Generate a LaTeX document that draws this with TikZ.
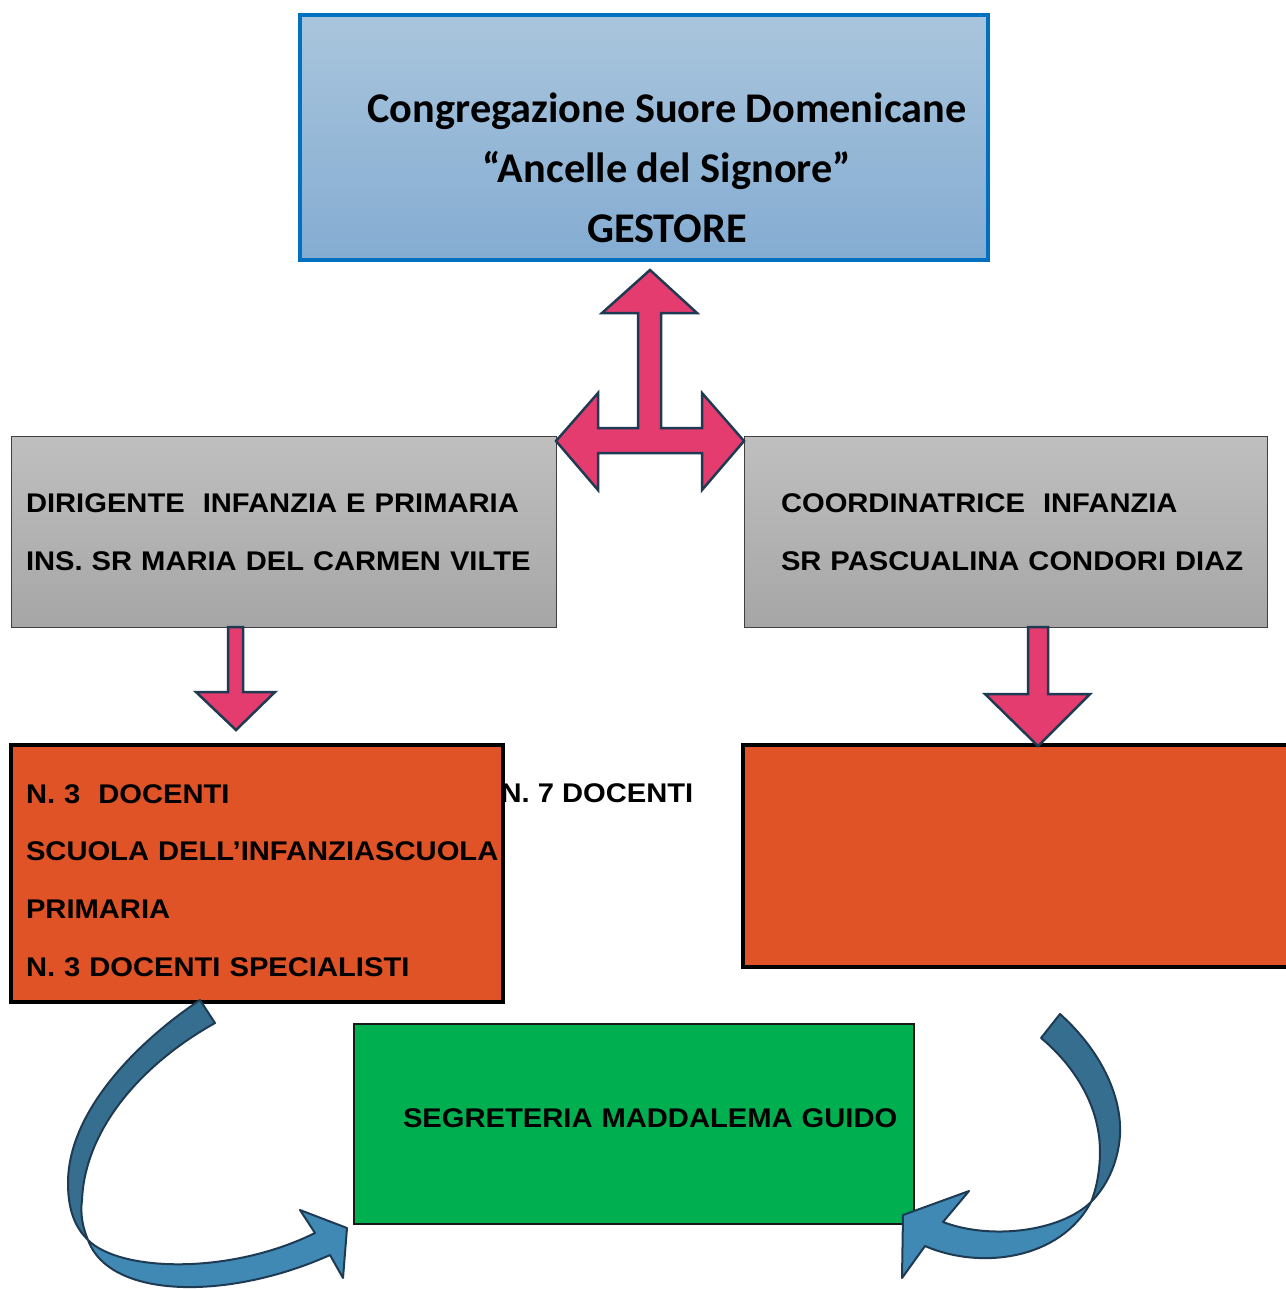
\documentclass[tikz,border=0pt]{standalone}
\usepackage{fontspec}
\setmainfont{Liberation Sans}
\newfontfamily\calibrifont{Carlito}
\newfontfamily\arialfont[FakeStretch=1.08]{Liberation Sans}
\usepackage{tikz}
\usetikzlibrary{positioning}
\definecolor{gestoreblu}{HTML}{0070C0}
\definecolor{blutop}{HTML}{A9C5DC}
\definecolor{blubottom}{HTML}{84ACD2}
\definecolor{grigiotop}{HTML}{BFBFBF}
\definecolor{grigiobottom}{HTML}{A6A6A6}
\definecolor{rosa}{HTML}{E43C6F}
\definecolor{bordoscuro}{HTML}{1F3B53}
\definecolor{arancio}{HTML}{E05327}
\definecolor{verde}{HTML}{00AF50}
\definecolor{curvascura}{HTML}{356E8E}
\definecolor{curvachiara}{HTML}{4089B5}
\newcommand{\riga}[2]{\raisebox{#1}[\height][\depth]{\mbox{#2}}}

\begin{document}
\begin{tikzpicture}[x=1pt, y=-1pt,
    box/.style={rectangle, anchor=north west, inner ysep=0pt, outer sep=0pt, align=left},
    grigio/.style={box, draw=black!75, line width=1pt, top color=grigiotop, bottom color=grigiobottom, font=\arialfont\fontsize{27}{58}\selectfont\bfseries},
    docenti/.style={box, draw=black, line width=3.5pt, fill=arancio, font=\arialfont\fontsize{27}{57.7}\selectfont\bfseries},
    blocco/.style={fill=rosa, draw=bordoscuro, line width=2.5pt, line join=miter},
    curva/.style={draw=bordoscuro, line width=2pt, line join=round}
]
    \useasboundingbox (0,0) rectangle (1285,1289);

    \node[box, draw=gestoreblu, line width=4pt, top color=blutop, bottom color=blubottom,
        minimum width=688, minimum height=245] (gestore) at (300,15) {};
    \node[font=\calibrifont\fontsize{42.3}{60}\selectfont\bfseries, align=center] (gestoretxt) at (667,168)
        {Congregazione Suore Domenicane\\“Ancelle del Signore”\\GESTORE};

    \node[grigio, minimum width=545, minimum height=191, inner xsep=15pt, text width=515pt] (dirigente) at (11,436)
        {\riga{-1pt}{DIRIGENTE~ INFANZIA E PRIMARIA}\\\riga{-1pt}{INS. SR MARIA DEL CARMEN VILTE}};
    \node[grigio, minimum width=523, minimum height=191, inner xsep=37pt, text width=449pt] (coord) at (744,436)
        {\riga{-1pt}{COORDINATRICE~ INFANZIA}\\\riga{-1pt}{SR PASCUALINA CONDORI DIAZ}};

    \node[docenti, minimum width=492, minimum height=257, inner xsep=15pt, text width=462pt] (docinf) at (11,745)
        {\riga{-7pt}{N. 3~ DOCENTI}\\\riga{-7pt}{SCUOLA DELL’INFANZIASCUOLA}\\\riga{-7pt}{PRIMARIA}\\\riga{-7pt}{N. 3 DOCENTI SPECIALISTI}};
    \node[docenti, draw=none, minimum width=560, minimum height=222] (docprim) at (743,745) {};
    \draw[line width=3.5pt] (docprim.north east) -- (docprim.north west) -- (docprim.south west) -- (docprim.south east);
    \node[font=\arialfont\fontsize{27}{40}\selectfont\bfseries, anchor=west] (setteDoc) at (497,793) {N. 7 DOCENTI};

    \node[box, draw=black!90, line width=2.5pt, fill=verde, minimum width=560, minimum height=200,
        inner xsep=49pt, text width=462pt, font=\arialfont\fontsize{27}{40}\selectfont\bfseries] (segreteria) at (354,1024)
        {\riga{6pt}{SEGRETERIA MADDALEMA GUIDO}};

    % Frecce
    \draw[blocco] (650,270) -- (697,313) -- (661,313) -- (661,428) -- (702,428) -- (702,393) -- (744,441)
        -- (702,490) -- (702,453) -- (598,453) -- (598,490) -- (556,441) -- (598,393) -- (598,428)
        -- (638,428) -- (638,313) -- (602,313) -- cycle;
    \draw[blocco] (228,627) -- (243,627) -- (243,692) -- (275,692) -- (236,730) -- (196,692) -- (228,692) -- cycle;
    \draw[blocco] (1028,627) -- (1048,627) -- (1048,694) -- (1090,694) -- (1038,746) -- (985,694) -- (1028,694) -- cycle;

    % Frecce curve
    \draw[curva, fill=curvascura] (200,1000) .. controls (140,1040) and (68,1110) .. (68,1183)
        .. controls (68,1215) and (78,1230) .. (88,1240)
        .. controls (83,1228) and (80,1215) .. (82,1200)
        .. controls (85,1130) and (140,1065) .. (215,1023) -- cycle;
    \draw[curva, fill=curvachiara] (88,1240) .. controls (120,1272) and (230,1275) .. (315,1233)
        -- (300,1210) -- (347,1228) -- (343,1278) -- (330,1255)
        .. controls (230,1300) and (110,1300) .. (88,1240) -- cycle;
    \draw[curva, fill=curvascura] (1060,1014) .. controls (1100,1050) and (1122,1095) .. (1120,1135)
        .. controls (1118,1165) and (1105,1188) .. (1091,1202)
        .. controls (1100,1180) and (1102,1150) .. (1098,1130)
        .. controls (1092,1095) and (1070,1062) .. (1041,1038) -- cycle;
    \draw[curva, fill=curvachiara] (1091,1202) .. controls (1060,1232) and (990,1240) .. (943,1222)
        -- (969,1191) -- (903,1215) -- (902,1278) -- (925,1246)
        .. controls (980,1270) and (1060,1260) .. (1091,1202) -- cycle;
\end{tikzpicture}
\end{document}
